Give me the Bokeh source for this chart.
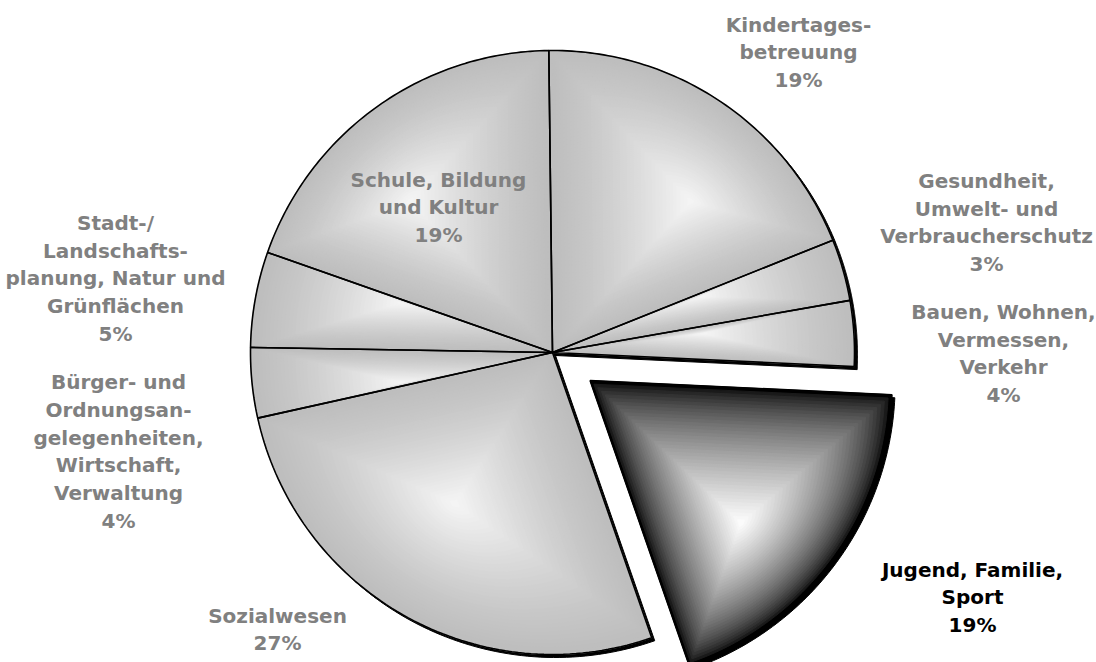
import numpy as np
from bokeh.plotting import figure
from bokeh.models import Range1d
from bokeh.core.properties import value
from bokeh.embed import file_html
from bokeh.resources import INLINE

# ---- data (clockwise from 12 o'clock) ----
categories = [
    "Kindertages-\nbetreuung",
    "Gesundheit,\nUmwelt- und\nVerbraucherschutz",
    "Bauen, Wohnen,\nVermessen,\nVerkehr",
    "Jugend, Familie,\nSport",
    "Sozialwesen",
    "Bürger- und\nOrdnungsan-\ngelegenheiten,\nWirtschaft,\nVerwaltung",
    "Stadt-/\nLandschafts-\nplanung, Natur und\nGrünflächen",
    "Schule, Bildung\nund Kultur",
]
shares = [19.1, 3.3, 3.5, 18.9, 26.8, 3.75, 5.1, 19.4]
highlight = [False, False, False, True, False, False, False, False]

# ---- layout (page pixels) ----
W, H = 1096, 662
CX, CY = 552, 662 - 352
R = 302
START_DEG = 90.7
EXPLODE = 47
label_pos = [(798, 52), (986, 222), (1003, 353), (972, 597),
             (277, 629), (118, 451), (115, 278), (438, 207)]

p = figure(width=W, height=H, output_backend="svg", toolbar_location=None,
           x_range=Range1d(0, W), y_range=Range1d(662 - H, 662),
           min_border=0)
p.axis.visible = False
p.grid.visible = False
p.outline_line_color = None
p.background_fill_color = "white"
p.border_fill_color = "white"

total = float(sum(shares))
bounds = START_DEG - 360.0 * np.concatenate([[0], np.cumsum(shares)]) / total


def lerp(c0, c1, t):
    return "#%02x%02x%02x" % tuple(int(round(a + (b - a) * t)) for a, b in zip(c0, c1))


polys = []
for i, v in enumerate(shares):
    a0, a1 = np.radians(bounds[i]), np.radians(bounds[i + 1])
    mid = (a0 + a1) / 2
    off = EXPLODE if highlight[i] else 0
    cx = CX + off * np.cos(mid)
    cy = CY + off * np.sin(mid)
    t = np.linspace(a0, a1, 80)
    xs = np.concatenate([[cx], cx + R * np.cos(t)])
    ys = np.concatenate([[cy], cy + R * np.sin(t)])
    polys.append((xs, ys))

# drop shadow
p.patches([list(x + 3) for x, y in polys], [list(y - 3) for x, y in polys],
          fill_color="black", line_color="black", line_width=1)

# path gradient fills
N = 40
gx, gy, gc = [], [], []
for i, (xs, ys) in enumerate(polys):
    fx = (xs.min() + xs.max()) / 2
    fy = (ys.min() + ys.max()) / 2
    if highlight[i]:
        c_edge, c_mid, g = (0, 0, 0), (255, 255, 255), 0.62
    else:
        c_edge, c_mid, g = (190, 190, 190), (246, 246, 246), 1.3
    for k in range(N):
        s = 1 - k / N
        gx.append(list(fx + (xs - fx) * s))
        gy.append(list(fy + (ys - fy) * s))
        gc.append(lerp(c_edge, c_mid, (k / N) ** g))
p.patches(gx, gy, fill_color=gc, line_color=gc, line_width=1)

# outlines
p.patches([list(x) for x, y in polys], [list(y) for x, y in polys],
          fill_color=None, line_color="black", line_width=1.6)

# labels
texts, lx, ly, lc = [], [], [], []
for i, name in enumerate(categories):
    pct = int(round(shares[i] / total * 100))
    texts.append(f"{name}\n{pct}%")
    lx.append(label_pos[i][0])
    ly.append(662 - label_pos[i][1])
    lc.append("black" if highlight[i] else "#808080")
p.text(lx, ly, text=texts, text_color=lc, text_align="center",
       text_baseline="middle", text_font=value("DejaVu Sans"),
       text_font_style="bold", text_font_size="20px", text_line_height=1.16)

open("out.html", "w").write(file_html(p, INLINE))
